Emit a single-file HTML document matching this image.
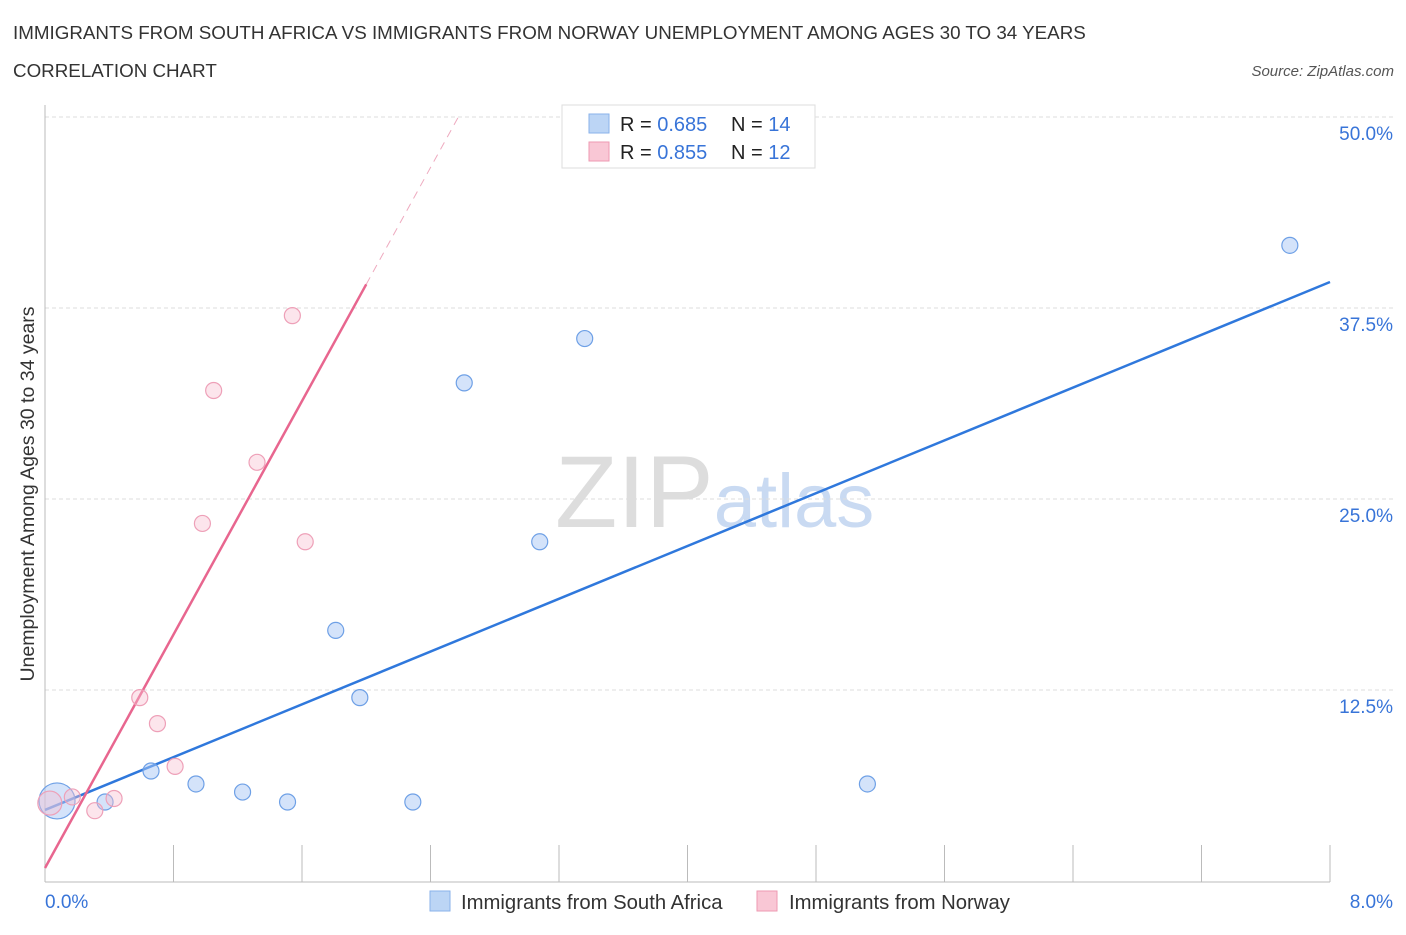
<!DOCTYPE html>
<html><head><meta charset="utf-8"><style>
body{margin:0;background:#fff;font-family:"Liberation Sans",sans-serif;}
svg text{font-family:"Liberation Sans",sans-serif;}
</style></head><body>
<svg id="chart" width="1406" height="930" xmlns="http://www.w3.org/2000/svg">
<text x="13" y="39" font-size="18.8" fill="#333">IMMIGRANTS FROM SOUTH AFRICA VS IMMIGRANTS FROM NORWAY UNEMPLOYMENT AMONG AGES 30 TO 34 YEARS</text>
<text x="13" y="77" font-size="18.8" fill="#333">CORRELATION CHART</text>
<text x="1394" y="76" font-size="15" fill="#555" font-style="italic" text-anchor="end">Source: ZipAtlas.com</text>
<text x="555" y="527" font-size="102" fill="#ddd" font-family="Liberation Serif">ZIP<tspan fill="#c9daf2" font-family="Liberation Sans" font-size="76">atlas</tspan></text>
<g id="grid"></g>
<g id="axes"></g>
<text transform="translate(34,494) rotate(-90)" font-size="19.5" fill="#333" text-anchor="middle">Unemployment Among Ages 30 to 34 years</text>
<g id="lines"></g>
<g id="points"></g>
<g>
<rect x="562" y="105" width="253" height="63" fill="#fff" stroke="#ddd"/>
<rect x="589" y="114" width="20" height="19" fill="#bcd5f5" stroke="#8ab2ea"/>
<text x="620" y="131" font-size="20" fill="#222">R = <tspan fill="#3874d8">0.685</tspan></text>
<text x="731" y="131" font-size="20" fill="#222">N = <tspan fill="#3874d8">14</tspan></text>
<rect x="589" y="142" width="20" height="19" fill="#f9c7d5" stroke="#ee9ab2"/>
<text x="620" y="159" font-size="20" fill="#222">R = <tspan fill="#3874d8">0.855</tspan></text>
<text x="731" y="159" font-size="20" fill="#222">N = <tspan fill="#3874d8">12</tspan></text>
</g>
<g>
<rect x="430" y="891" width="20" height="20" fill="#bcd5f5" stroke="#8ab2ea"/>
<text x="461" y="909" font-size="20.3" fill="#333">Immigrants from South Africa</text>
<rect x="757" y="891" width="20" height="20" fill="#f9c7d5" stroke="#ee9ab2"/>
<text x="789" y="909" font-size="20.3" fill="#333">Immigrants from Norway</text>
</g>
</svg>
<script>
const xTicks=[0,8];
const yTicks=[12.5,25,37.5,50];
const saX=[0.075,0.374,0.66,0.94,1.23,1.51,1.81,1.96,2.29,2.61,3.08,3.36,5.12,7.75];
const saY=[5.24,5.17,7.2,6.35,5.82,5.17,16.4,12.0,5.17,32.6,22.2,35.5,6.35,41.6];
const saR=[18,8,8,8,8,8,8,8,8,8,8,8,8,8];
const noX=[0.03,0.17,0.31,0.43,0.59,0.70,0.81,0.98,1.05,1.32,1.54,1.62];
const noY=[5.1,5.5,4.6,5.4,12.0,10.3,7.5,23.4,32.1,27.4,37.0,22.2];
const noR=[12,8,8,8,8,8,8,8,8,8,8,8];
const saFit=[4.65,39.2];
const noFit=[0.85,19.1];
const NS="http://www.w3.org/2000/svg";
const X=v=>45+v/8*1285, Y=v=>881-v/50*764;
function mk(t,a,p){const e=document.createElementNS(NS,t);for(const k in a)e.setAttribute(k,a[k]);document.getElementById(p).appendChild(e);return e;}
yTicks.forEach(t=>{
 const l=mk('line',{x1:45,x2:1395,y1:Y(t),y2:Y(t),stroke:'#ddd','stroke-dasharray':'4,3'},'grid');
 
 
 const tx=mk('text',{x:1393,y:Y(t)+23,'font-size':19,fill:'#3874d8','text-anchor':'end'},'axes');
 tx.textContent=t.toFixed(1)+'%';
 
 
});
let a=mk('line',{x1:45,x2:45,y1:105,y2:882,stroke:'#bbb'},'axes');


a=mk('line',{x1:45,x2:1330,y1:882,y2:882,stroke:'#bbb'},'axes');


for(let i=0;i<=10;i++){const t=mk('line',{x1:45+i*128.5,x2:45+i*128.5,y1:845,y2:882,stroke:'#bbb'},'axes');
 
 }
xTicks.forEach((t,i)=>{const tx=mk('text',{x:i?1393:45,y:908,'font-size':19,fill:'#3874d8','text-anchor':i?'end':'start'},'axes');
 tx.textContent=t.toFixed(1)+'%';
 
 });
let ln=mk('line',{x1:X(0),y1:Y(saFit[0]),x2:X(8),y2:Y(saFit[1]),stroke:'#2f78dc','stroke-width':2.5},'lines');


const nx2=2.0, nxEnd=(50-noFit[0])/noFit[1];
ln=mk('line',{x1:X(0),y1:Y(noFit[0]),x2:X(nx2),y2:Y(noFit[0]+noFit[1]*nx2),stroke:'#e8668f','stroke-width':2.5},'lines');


ln=mk('line',{x1:X(nx2),y1:Y(noFit[0]+noFit[1]*nx2),x2:X(nxEnd),y2:Y(50),stroke:'#eeaabf','stroke-width':1,'stroke-dasharray':'8,6'},'lines');


saX.forEach((v,i)=>{const c=mk('circle',{cx:X(v),cy:Y(saY[i]),r:saR[i],fill:'rgba(170,200,245,0.5)',stroke:'#6ea0e6','stroke-width':1.2},'points');
 
 });
noX.forEach((v,i)=>{const c=mk('circle',{cx:X(v),cy:Y(noY[i]),r:noR[i],fill:'rgba(248,190,208,0.4)',stroke:'#eea0b8','stroke-width':1.2},'points');
 
 });
</script>
</body></html>
